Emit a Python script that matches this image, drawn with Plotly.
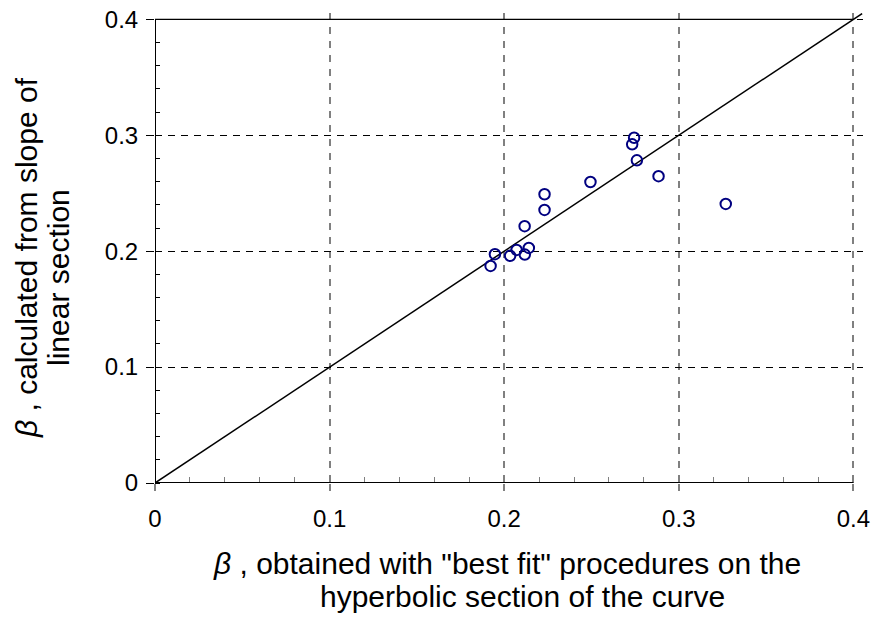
import plotly.graph_objects as go

# beta from the best-fit procedure (x) vs beta from the slope of the linear section (y)
beta_fit = [0.2744, 0.2733, 0.2760, 0.2884, 0.2494, 0.2231, 0.2231, 0.2117,
            0.1947, 0.1922, 0.2034, 0.2071, 0.2118, 0.2141, 0.3269]
beta_slope = [0.2979, 0.2922, 0.2784, 0.2647, 0.2597, 0.2491, 0.2356, 0.2216,
              0.1974, 0.1873, 0.1960, 0.2011, 0.1971, 0.2028, 0.2408]

# 1:1 reference line
identity = [0.0, 0.405]

major_ticks = [0, 0.1, 0.2, 0.3, 0.4]
tick_text = ["0", "0.1", "0.2", "0.3", "0.4"]
axis_max = 0.4
view_max = 0.4055

FONT = "Liberation Sans, Arial, sans-serif"

fig = go.Figure()

fig.add_trace(go.Scatter(
    x=identity, y=identity, mode="lines",
    line=dict(color="black", width=1.5),
    hoverinfo="skip", showlegend=False,
))

fig.add_trace(go.Scatter(
    x=beta_fit, y=beta_slope, mode="markers",
    marker=dict(symbol="circle-open", size=10.5, color="#000080",
                line=dict(color="#000080", width=2)),
    showlegend=False,
))

# frame: left/bottom axes and top border, all ending at 0.4
for x0, y0, x1, y1, w in [(0, 0, 0, axis_max, 2), (0, 0, axis_max, 0, 2),
                          (0, axis_max, axis_max, axis_max, 1.2)]:
    fig.add_shape(type="line", xref="x", yref="y", x0=x0, y0=y0, x1=x1, y1=y1,
                  line=dict(color="black", width=w), layer="above")

fig.update_xaxes(
    range=[0, view_max], tickvals=major_ticks, ticktext=tick_text,
    showline=False, zeroline=False, automargin=False,
    showgrid=True, gridcolor="#808080", gridwidth=1.5, griddash="7px,7px",
    ticks="outside", ticklen=7, tickwidth=1.5, tickcolor="#808080",
    ticklabelstandoff=7,
    tickfont=dict(family=FONT, size=24, color="black"),
    minor=dict(dtick=0.02, tick0=0, ticks="inside", ticklen=6,
               tickwidth=1.2, tickcolor="#808080", showgrid=False),
)
fig.update_yaxes(
    range=[0, view_max], tickvals=major_ticks, ticktext=tick_text,
    showline=False, zeroline=False, automargin=False,
    showgrid=True, gridcolor="black", gridwidth=1, griddash="7px,6px",
    ticks="outside", ticklen=8, tickwidth=1, tickcolor="black",
    ticklabelstandoff=3,
    tickfont=dict(family=FONT, size=24, color="black"),
    minor=dict(dtick=0.02, tick0=0, ticks="inside", ticklen=5,
               tickwidth=1, tickcolor="black", showgrid=False),
)

title_font = dict(family=FONT, size=30, color="black")
annotations = [
    dict(text='<i>β</i> , obtained with "best fit" procedures on the',
         xref="paper", yref="paper", x=0.5, y=0, xshift=-2, yshift=-80,
         xanchor="center", yanchor="middle", showarrow=False, font=title_font),
    dict(text="hyperbolic section of the curve",
         xref="paper", yref="paper", x=0.5, y=0, xshift=13, yshift=-113,
         xanchor="center", yanchor="middle", showarrow=False, font=title_font),
    dict(text="<i>β</i> , calculated from slope of",
         xref="paper", yref="paper", x=0, y=0.5, xshift=-129, yshift=-10,
         xanchor="center", yanchor="middle", textangle=-90, showarrow=False,
         font=title_font),
    dict(text="linear section",
         xref="paper", yref="paper", x=0, y=0.5, xshift=-97, yshift=-30,
         xanchor="center", yanchor="middle", textangle=-90, showarrow=False,
         font=title_font),
]

fig.update_layout(
    width=877, height=621,
    margin=dict(l=155, r=14, t=13, b=138),
    paper_bgcolor="white", plot_bgcolor="white",
    annotations=annotations,
    font=dict(family=FONT),
)

fig.write_html("out.html")
